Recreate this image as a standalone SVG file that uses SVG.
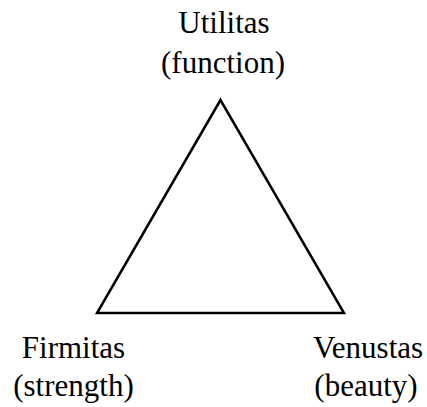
<svg xmlns="http://www.w3.org/2000/svg" width="427" height="407" viewBox="0 0 427 407">
<style>
text{font-family:"Liberation Serif","Times New Roman",serif;font-size:31px;fill:#000;text-anchor:middle}
.edge{fill:none;stroke:#000;stroke-width:2.5;stroke-linejoin:miter}
</style>
<rect width="427" height="407" fill="#fff"/>
<g id="connectors">
<polygon class="edge" points="220.5,100 97,313 344,313"/>
</g>
<g id="utilitas"><text x="224" y="33">Utilitas</text><text x="223" y="73">(function)</text></g>
<g id="firmitas"><text x="73.5" y="358">Firmitas</text><text x="73.5" y="396">(strength)</text></g>
<g id="venustas"><text x="368" y="358">Venustas</text><text x="366" y="396">(beauty)</text></g>
</svg>
